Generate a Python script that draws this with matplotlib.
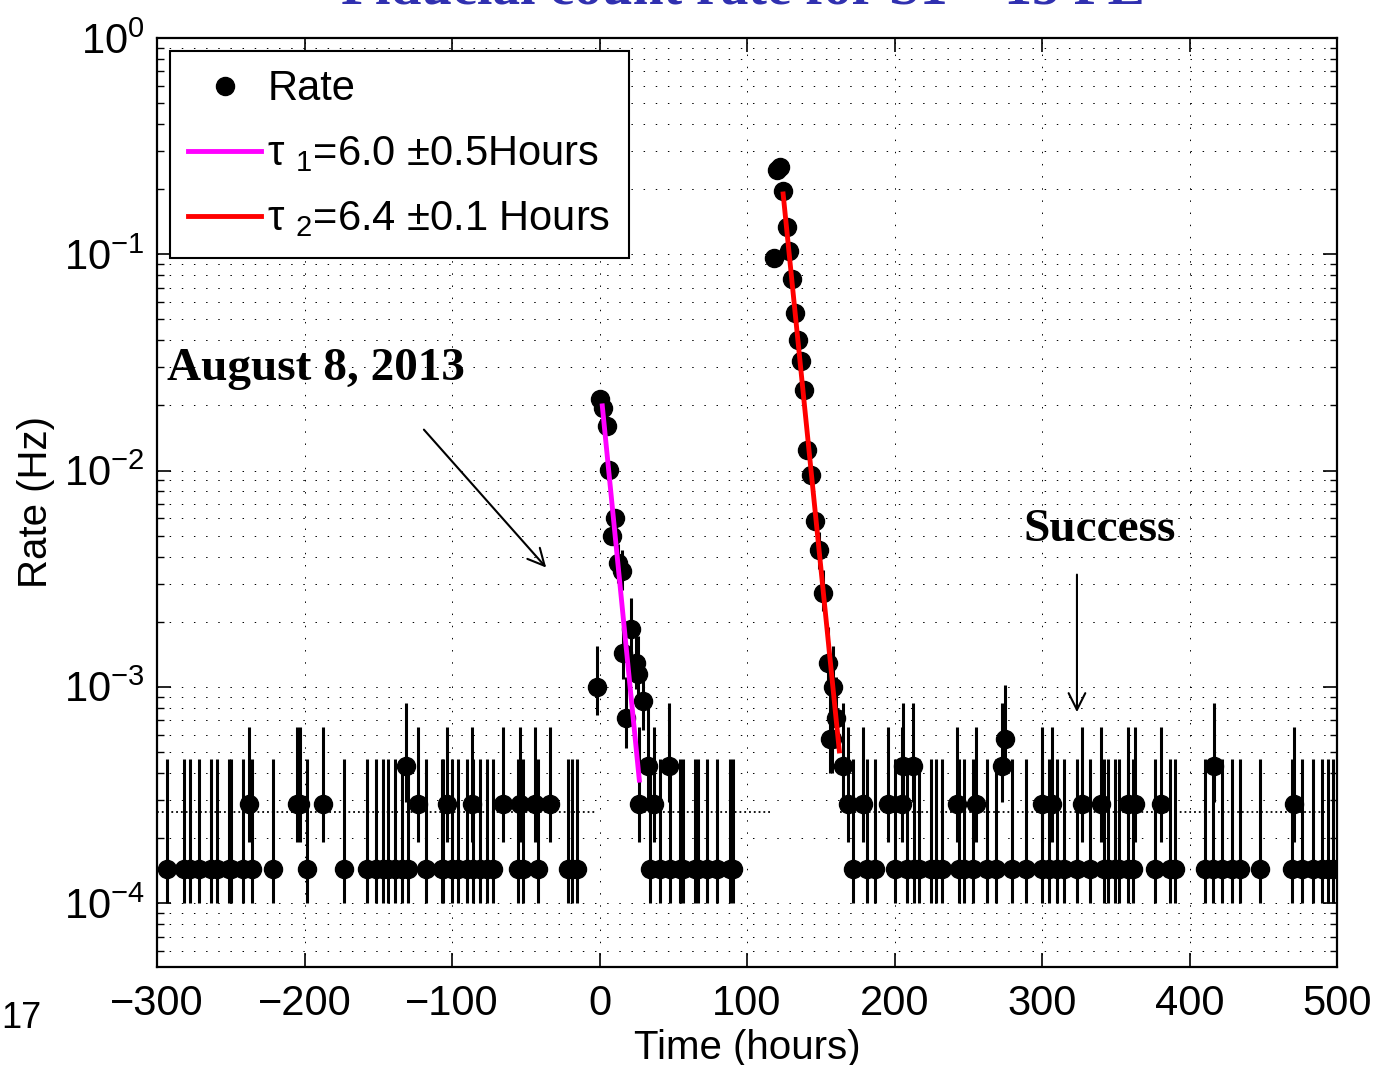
import numpy as np
import matplotlib.pyplot as plt
from matplotlib.lines import Line2D
from matplotlib.ticker import LogLocator, NullFormatter

plt.rcParams['font.family'] = ['Liberation Sans', 'DejaVu Sans']
plt.rcParams['mathtext.fontset'] = 'custom'
plt.rcParams['mathtext.rm'] = 'Liberation Sans'
plt.rcParams['mathtext.it'] = 'Liberation Sans:italic'
plt.rcParams['mathtext.bf'] = 'Liberation Sans:bold'

# one count in a time bin corresponds to this rate
RATE_PER_COUNT = 1.43e-4
BKG_RATE = 2.64e-4

# bins holding 1, 2, 3 and 4 counts (time in hours)
t_one = [-293.0, -281.5, -277.6, -271.3, -263.4, -259.6, -251.2, -249.8, -241.5, -235.8,
         -221.1, -198.5, -173.0, -157.4, -151.5, -146.6, -143.6, -138.6, -134.1, -129.6,
         -117.6, -107.0, -105.9, -100.2, -95.7, -90.0, -86.0, -81.0, -76.5, -72.4,
         -55.0, -51.6, -41.5, -21.1, -18.9, -15.5,
         34.5, 41.0, 47.8, 54.5, 56.5, 64.7, 67.0, 72.6, 79.4, 88.5, 90.5,
         172.1, 181.2, 186.8, 200.5, 208.5, 213.0, 216.5, 224.5, 228.0, 232.0, 244.0,
         247.0, 253.0, 263.0, 268.8, 279.4, 289.0, 300.2, 305.0, 310.0, 315.0, 324.0,
         332.5, 342.3, 345.0, 349.5, 352.4, 358.6, 362.0, 376.7, 386.8, 390.2, 410.5,
         416.0, 422.0, 428.7, 434.3, 447.9, 469.4, 476.0, 484.0, 489.5, 494.0, 497.6]
t_two = [-237.4, -205.3, -203.1, -187.2, -122.8, -103.6, -86.7, -65.2, -53.9, -43.7, -33.6,
         26.8, 37.0,
         168.7, 178.8, 195.8, 204.9, 242.2, 255.3, 300.0, 306.5, 326.9, 339.8, 358.6,
         363.1, 380.5, 470.9]
t_three = [-131.2, 33.1, 46.8, 165.3, 206.0, 212.7, 272.7, 416.8]
t_four = [157.4, 274.9]

# first burst
peak1_t = [-1.5, 0.3, 2.6, 4.9, 6.7, 8.7, 10.5, 12.8, 15.1, 16.2, 18.2, 21.6, 24.5, 26.2, 29.3]
peak1_n = [7, 150, 136, 112, 70, 35, 42, 26, 24, 10, 5, 13, 9, 8, 6]

# second burst
peak2_t = [118.5, 120.3, 122.5, 124.6, 126.9, 128.7, 130.7, 132.5, 134.8, 136.6, 138.6,
           140.5, 143.2, 146.3, 148.6, 151.7, 155.1, 156.3, 158.5, 160.3]
peak2_n = [675, 1713, 1762, 1370, 930, 727, 540, 374, 281, 224, 165,
           87, 67, 41, 30, 19, 9, 4, 7, 5]

# error bar limits (in counts) for each count value
err_n = [1, 2, 3, 4, 5, 6, 7, 8, 9, 10, 13, 19, 24, 26, 30]
err_lo = [0.70, 1.34, 2.06, 2.80, 3.65, 4.40, 5.20, 6.00, 6.80, 7.60, 10.0, 15.6, 19.5, 21.0, 24.5]
err_hi = [3.24, 4.57, 5.90, 7.10, 7.80, 9.50, 10.8, 12.0, 13.2, 14.4, 18.0, 24.3, 30.0, 32.0, 36.5]

# exponential fits (end points)
fit1_t = [1.9, 27.0]
fit1_rate = [0.0199, 3.7e-4]
fit2_t = [124.5, 162.6]
fit2_rate = [0.19, 5.05e-4]

# mean background level, drawn piecewise
bkg_segments = [(-300, -2), (27, 117), (163, 500)]

times = np.array(t_one + t_two + t_three + t_four + peak1_t + peak2_t, dtype=float)
counts = np.array([1] * len(t_one) + [2] * len(t_two) + [3] * len(t_three) + [4] * len(t_four)
                  + peak1_n + peak2_n, dtype=float)
lo_map = dict(zip(err_n, err_lo))
hi_map = dict(zip(err_n, err_hi))
lo = np.array([lo_map.get(int(c), c) for c in counts])
hi = np.array([hi_map.get(int(c), c) for c in counts])

rate = counts * RATE_PER_COUNT
yerr = [(counts - lo) * RATE_PER_COUNT, (hi - counts) * RATE_PER_COUNT]

fig = plt.figure(figsize=(13.77, 10.65), dpi=100)
ax = fig.add_axes([157 / 1377, 98 / 1065, 1180 / 1377, 929 / 1065])

for a, b in bkg_segments:
    ax.plot([a, b], [BKG_RATE, BKG_RATE], color='k', ls=':', lw=1.3, zorder=2)

ax.errorbar(times, rate, yerr=yerr, fmt='o', color='k', ms=13, elinewidth=2.2,
            capsize=0, zorder=3)
ax.plot(fit1_t, fit1_rate, color='#ff00ff', lw=3.5, zorder=4)
ax.plot(fit2_t, fit2_rate, color='#ff0000', lw=3.5, zorder=4)

ax.set_yscale('log')
ax.set_xlim(-300, 500)
ax.set_ylim(5.06e-5, 1)
ax.set_xticks(np.arange(-300, 501, 100))
ax.yaxis.set_major_locator(LogLocator(base=10, numticks=10))
ax.yaxis.set_minor_locator(LogLocator(base=10, subs=np.arange(2, 10), numticks=20))
ax.yaxis.set_minor_formatter(NullFormatter())

grid_style = dict(color='k', ls=(0, (1.5, 11)), lw=0.7)
ax.grid(True, which='major', axis='both', **grid_style)
ax.grid(True, which='minor', axis='y', **grid_style)
ax.set_axisbelow(True)

ax.tick_params(which='both', direction='in', top=True, right=True, labelsize=30)
ax.tick_params(which='major', length=10, width=1.2, pad=12)
ax.tick_params(which='minor', length=5, width=1)
ax.tick_params(axis='y', which='major', pad=9)
for sp in ax.spines.values():
    sp.set_linewidth(1.6)

ax.set_xlabel('Time (hours)', fontsize=29, labelpad=4)
ax.set_ylabel('Rate (Hz)', fontsize=29, labelpad=6)

handles = [Line2D([], [], color='k', marker='o', ls='none', ms=13),
           Line2D([], [], color='#ff00ff', lw=3.5),
           Line2D([], [], color='#ff0000', lw=3.5)]
labels = [r'Rate', r'τ $_{1}$=6.0 ±0.5Hours', r'τ $_{2}$=6.4 ±0.1 Hours']
leg = ax.legend(handles, labels, loc='upper left', fontsize=30, frameon=True,
                fancybox=False, framealpha=1, edgecolor='k', handlelength=1.75,
                borderaxespad=0.3, borderpad=0.45, labelspacing=0.6, handletextpad=0.15)
leg.get_frame().set_linewidth(1.5)

ax.annotate('', xy=(-34.9, 3.48e-3), xytext=(-120.3, 0.0158),
            arrowprops=dict(arrowstyle='->', color='k', lw=1.5, mutation_scale=30))
ax.text(-293.0, 0.0294, 'August 8, 2013', family='Liberation Serif', weight='bold',
        fontsize=34, ha='left', va='center')
ax.annotate('', xy=(323.7, 7.41e-4), xytext=(323.7, 3.40e-3),
            arrowprops=dict(arrowstyle='->', color='k', lw=1.5, mutation_scale=30))
ax.text(339.3, 5.33e-3, 'Success', family='Liberation Serif', weight='bold',
        fontsize=34, ha='center', va='center')

fig.text(743 / 1377, 1 - 4 / 1065, 'Fiducial count rate for S1 ~ 15 PE',
         family='Liberation Serif', weight='bold', fontsize=40, color='#3030b0',
         ha='center', va='baseline')
fig.text(1 / 1377, 1 - 1018 / 1065, '17', fontsize=26, ha='left', va='center')

fig.savefig('out.png', dpi=100)
